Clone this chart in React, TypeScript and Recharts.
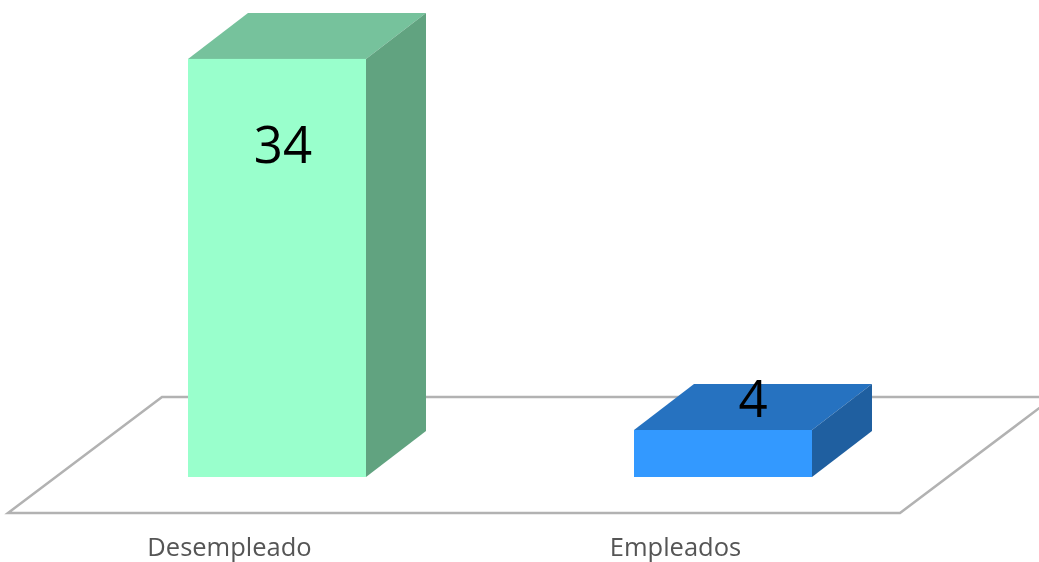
import { Bar, BarChart, LabelList, ReferenceArea, XAxis, YAxis } from 'recharts';

const categories = ['Desempleado', 'Empleados'];
const counts = [34, 4];

const data = categories.map((name, i) => ({ name, count: counts[i] }));

const floorStroke = '#b2b2b2';
// front, top, side
const faces = [
  ['#99ffcc', '#76c29c', '#61a380'],
  ['#3399ff', '#2672c0', '#1f5fa0'],
];
const depthX = 60;
const depthY = 46;
// bars stand in the middle of the floor, not on its front edge
const standX = 46;
const standY = 36;
const floorSkew = 154;
const labelShift = [
  { dx: 6, y: 84 },
  { dx: 30, y: -33 },
];

function Floor(props: any) {
  const { x, y, width, height } = props;
  const d = `M${x},${y + height} L${x + width},${y + height} L${x + width + floorSkew},${y} L${x + floorSkew},${y} Z`;
  return <path d={d} fill="#fff" stroke={floorStroke} strokeWidth={2.5} />;
}

function Box(props: any) {
  const { x, y, width, height, index } = props;
  const [front, top, side] = faces[index];
  const l = x + standX;
  const r = l + width;
  const t = y - standY;
  const b = t + height;
  return (
    <g>
      <path d={`M${l},${t} L${l + depthX},${t - depthY} L${r + depthX},${t - depthY} L${r},${t} Z`} fill={top} />
      <path d={`M${r},${t} L${r + depthX},${t - depthY} L${r + depthX},${b - depthY} L${r},${b} Z`} fill={side} />
      <rect x={l} y={t} width={width} height={height} fill={front} />
    </g>
  );
}

function ValueLabel(props: any) {
  const { x, y, width, value, index } = props;
  const s = labelShift[index];
  return (
    <text
      x={x + standX + width / 2 + s.dx}
      y={y - standY + s.y}
      textAnchor="middle"
      dominantBaseline="central"
      fontFamily="'Open Sans', sans-serif"
      fontSize={51}
      fill="#000"
    >
      {value}
    </text>
  );
}

export default function App() {
  return (
    <div style={{ position: 'absolute', left: 0, top: 0, width: 1039, height: 562, background: '#fff', overflow: 'hidden', filter: 'blur(0.5px)' }}>
      <BarChart
        width={1039}
        height={562}
        data={data}
        margin={{ top: 20.7, right: 139, bottom: 0, left: 8 }}
        barSize={178}
      >
        <XAxis
          dataKey="name"
          axisLine={false}
          tickLine={false}
          height={49}
          tickMargin={19}
          tick={{ fill: '#555', fontSize: 25.5, fontFamily: "'Open Sans', sans-serif", dx: -1.5 }}
        />
        <YAxis hide domain={[0.2, 40]} />
        <ReferenceArea y1={0.2} y2={9.58} shape={<Floor />} ifOverflow="visible" />
        <Bar dataKey="count" shape={<Box />} isAnimationActive={false}>
          <LabelList dataKey="count" content={<ValueLabel />} />
        </Bar>
      </BarChart>
    </div>
  );
}
